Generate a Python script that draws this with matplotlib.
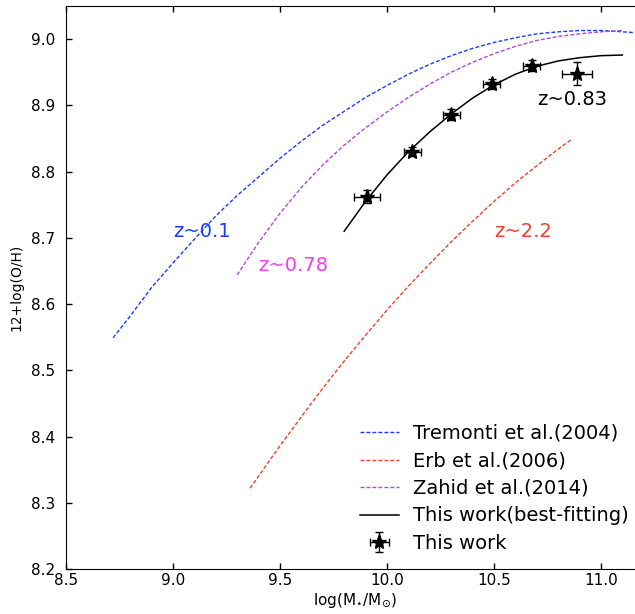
import numpy as np
import matplotlib
matplotlib.use('Agg')
import matplotlib.pyplot as plt

# Tremonti et al. (2004), z~0.1
x_trem = [8.72, 8.80, 8.90, 9.00, 9.10, 9.20, 9.30, 9.40, 9.50, 9.60, 9.70, 9.80, 9.90,
          10.00, 10.10, 10.20, 10.30, 10.40, 10.50, 10.60, 10.70, 10.80, 10.90, 11.00, 11.10, 11.20]
y_trem = [8.549, 8.582, 8.625, 8.662, 8.698, 8.733, 8.764, 8.792, 8.820, 8.846, 8.870, 8.891, 8.912,
          8.930, 8.947, 8.962, 8.975, 8.986, 8.995, 9.002, 9.008, 9.011, 9.013, 9.013, 9.011, 9.009]

# Erb et al. (2006), z~2.2
x_erb = [9.36, 9.50, 9.60, 9.70, 9.80, 9.90, 10.00, 10.10, 10.20, 10.30, 10.40, 10.50, 10.60, 10.70, 10.80, 10.86]
y_erb = [8.322, 8.386, 8.430, 8.473, 8.514, 8.553, 8.591, 8.627, 8.661, 8.694, 8.725, 8.755, 8.783, 8.809, 8.834, 8.848]

# Zahid et al. (2014), z~0.78
x_zah = [9.30, 9.40, 9.50, 9.60, 9.70, 9.80, 9.90, 10.00, 10.10, 10.20, 10.30, 10.40,
         10.50, 10.60, 10.70, 10.80, 10.90, 11.00, 11.10]
y_zah = [8.644, 8.693, 8.737, 8.776, 8.810, 8.840, 8.866, 8.890, 8.912, 8.932, 8.950, 8.965,
         8.978, 8.989, 8.998, 9.004, 9.008, 9.011, 9.013]

# this work, best fit
x_fit = [9.80, 9.90, 10.00, 10.10, 10.20, 10.30, 10.40, 10.50, 10.60, 10.70, 10.80, 10.90, 11.00, 11.10]
y_fit = [8.710, 8.755, 8.795, 8.830, 8.860, 8.887, 8.911, 8.931, 8.947, 8.959, 8.967, 8.972, 8.975, 8.976]

# this work, data points
x_obs = [9.905, 10.118, 10.300, 10.489, 10.676, 10.890]
y_obs = [8.762, 8.830, 8.886, 8.932, 8.960, 8.948]
xerr_obs = [0.06, 0.04, 0.04, 0.04, 0.04, 0.07]
yerr_obs = [0.010, 0.007, 0.008, 0.008, 0.008, 0.018]

fig = plt.figure(figsize=(6.35, 6.14), dpi=100)
ax = fig.add_axes([66/635, 45/614, 2.7*214/635, 563/614])

dash = (2.8, 1.5)
ax.plot(x_trem, y_trem, '--', dashes=dash, color='#1a3cff', lw=1.0, label='Tremonti et al.(2004)')
ax.plot(x_erb, y_erb, '--', dashes=dash, color='#f0402e', lw=1.0, label='Erb et al.(2006)')
ax.plot(x_zah, y_zah, '--', dashes=dash, color='#b048d8', lw=1.0, label='Zahid et al.(2014)')
ax.plot(x_fit, y_fit, '-', color='k', lw=1.1, label='This work(best-fitting)')
ax.errorbar(x_obs, y_obs, xerr=xerr_obs, yerr=yerr_obs, fmt='*', color='k',
            ms=11, elinewidth=1, capsize=3, label='This work')

ax.text(9.0, 8.709, 'z~0.1', color='#1a3cff', fontsize=14, ha='left', va='center')
ax.text(9.4, 8.658, 'z~0.78', color='#f040f0', fontsize=14, ha='left', va='center')
ax.text(10.5, 8.709, 'z~2.2', color='#f0402e', fontsize=14, ha='left', va='center')
ax.text(10.7, 8.909, 'z~0.83', color='k', fontsize=14, ha='left', va='center')

ax.set_xlim(8.5, 11.2)
ax.set_ylim(8.2, 9.05)
ax.set_xticks(np.arange(8.5, 11.01, 0.5))
ax.set_yticks(np.arange(8.2, 9.01, 0.1))
ax.tick_params(direction='in', top=True, right=True, length=4, width=1, labelsize=11)
ax.tick_params(axis='x', pad=3)
ax.tick_params(axis='y', pad=8)

ax.set_xlabel(r'log(M$_{\star}$/M$_{\odot}$)', fontsize=11, labelpad=2)
ax.set_ylabel('12+log(O/H)', fontsize=10, labelpad=5)

ax.legend(loc='lower left', bbox_to_anchor=(360/635, 61/614), bbox_transform=fig.transFigure,
          frameon=False, fontsize=14, labelspacing=0.44, borderpad=0, borderaxespad=0,
          handlelength=2.0, handletextpad=0.75, numpoints=1)

fig.savefig('out.png', dpi=100)
